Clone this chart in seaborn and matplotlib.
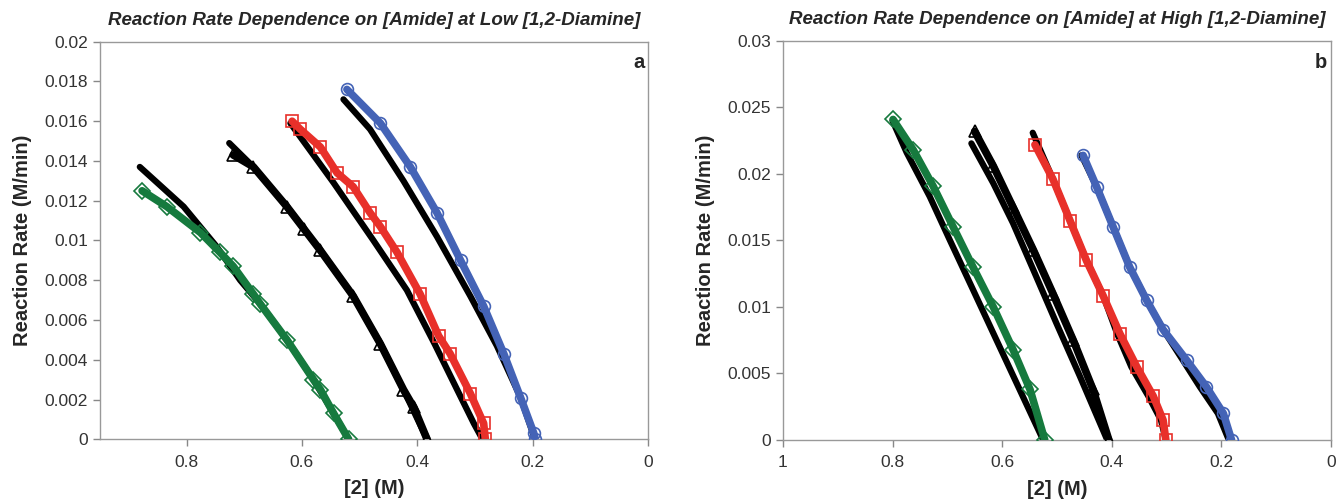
import matplotlib
matplotlib.use("Agg")
import matplotlib.pyplot as plt
import seaborn as sns

# ---- panel a: low [1,2-diamine] ----
a_green_x = [0.877, 0.834, 0.776, 0.742, 0.719, 0.684, 0.672, 0.626, 0.580, 0.568, 0.545, 0.519]
a_green_y = [0.0125, 0.0117, 0.0104, 0.0094, 0.0087, 0.0073, 0.0068, 0.0050, 0.0030, 0.0025, 0.0013, 0.0]
a_green_fit_x = [0.881, 0.805, 0.748, 0.707, 0.672, 0.626, 0.580, 0.545, 0.519]
a_green_fit_y = [0.0137, 0.0117, 0.0097, 0.0080, 0.0068, 0.0050, 0.0030, 0.0013, 0.0]

a_black_x = [0.719, 0.684, 0.626, 0.597, 0.568, 0.511, 0.464, 0.424, 0.406, 0.383]
a_black_y = [0.0143, 0.0137, 0.0117, 0.0106, 0.0095, 0.0072, 0.0048, 0.0025, 0.0016, 0.0]
a_black_fit_x = [0.726, 0.684, 0.626, 0.568, 0.511, 0.464, 0.424, 0.383]
a_black_fit_y = [0.0149, 0.0137, 0.0117, 0.0095, 0.0072, 0.0048, 0.0025, 0.0]

a_red_x = [0.617, 0.603, 0.568, 0.539, 0.511, 0.482, 0.464, 0.435, 0.395, 0.363, 0.343, 0.308, 0.285, 0.282]
a_red_y = [0.0160, 0.0156, 0.0147, 0.0134, 0.0127, 0.0114, 0.0107, 0.0094, 0.0073, 0.0052, 0.0043, 0.0023, 0.0008, 0.0]
a_red_fit_x = [0.620, 0.545, 0.476, 0.418, 0.370, 0.331, 0.302, 0.287]
a_red_fit_y = [0.0159, 0.0129, 0.0100, 0.0075, 0.0048, 0.0025, 0.0008, 0.0]

a_blue_x = [0.522, 0.464, 0.412, 0.366, 0.325, 0.285, 0.250, 0.221, 0.198, 0.196]
a_blue_y = [0.0176, 0.0159, 0.0137, 0.0114, 0.0090, 0.0067, 0.0043, 0.0021, 0.0003, 0.0]
a_blue_fit_x = [0.528, 0.482, 0.424, 0.366, 0.308, 0.262, 0.221, 0.196]
a_blue_fit_y = [0.0171, 0.0156, 0.0130, 0.0102, 0.0072, 0.0047, 0.0021, 0.0]

# ---- panel b: high [1,2-diamine] ----
b_green_x = [0.799, 0.762, 0.726, 0.689, 0.653, 0.616, 0.580, 0.549, 0.522]
b_green_y = [0.0241, 0.0218, 0.0191, 0.0160, 0.0130, 0.0100, 0.0068, 0.0038, 0.0]
b_green_fit_x = [0.800, 0.774, 0.732, 0.695, 0.653, 0.610, 0.568, 0.525]
b_green_fit_y = [0.0240, 0.0216, 0.0183, 0.0150, 0.0113, 0.0075, 0.0038, 0.0]

b_black_x = [0.650, 0.616, 0.580, 0.543, 0.507, 0.470, 0.434, 0.405]
b_black_y = [0.0232, 0.0206, 0.0175, 0.0143, 0.0110, 0.0075, 0.0038, 0.0]
b_black_fit_x = [0.656, 0.616, 0.580, 0.543, 0.501, 0.458, 0.408]
b_black_fit_y = [0.0223, 0.0193, 0.0163, 0.0128, 0.0088, 0.0048, 0.0]

b_red_x = [0.540, 0.507, 0.476, 0.446, 0.415, 0.385, 0.354, 0.324, 0.306, 0.301]
b_red_y = [0.0222, 0.0196, 0.0165, 0.0135, 0.0108, 0.0080, 0.0055, 0.0033, 0.0015, 0.0]
b_red_fit_x = [0.544, 0.507, 0.476, 0.446, 0.415, 0.390, 0.364, 0.333, 0.310, 0.301]
b_red_fit_y = [0.0231, 0.0196, 0.0165, 0.0135, 0.0108, 0.0080, 0.0055, 0.0033, 0.0015, 0.0]

b_blue_x = [0.452, 0.427, 0.397, 0.367, 0.336, 0.306, 0.263, 0.227, 0.196, 0.181]
b_blue_y = [0.0214, 0.0190, 0.0160, 0.0130, 0.0105, 0.0083, 0.0060, 0.0040, 0.0020, 0.0]
b_blue_fit_x = [0.455, 0.427, 0.397, 0.367, 0.336, 0.306, 0.270, 0.239, 0.206, 0.186]
b_blue_fit_y = [0.0214, 0.0190, 0.0160, 0.0130, 0.0105, 0.0083, 0.0060, 0.0040, 0.0020, 0.0]

a_xticks = [0.8, 0.6, 0.4, 0.2, 0]
a_xticklabels = ["0.8", "0.6", "0.4", "0.2", "0"]
a_yticks = [0, 0.002, 0.004, 0.006, 0.008, 0.01, 0.012, 0.014, 0.016, 0.018, 0.02]
a_yticklabels = ["0", "0.002", "0.004", "0.006", "0.008", "0.01", "0.012", "0.014", "0.016", "0.018", "0.02"]
b_xticks = [1, 0.8, 0.6, 0.4, 0.2, 0]
b_xticklabels = ["1", "0.8", "0.6", "0.4", "0.2", "0"]
b_yticks = [0, 0.005, 0.01, 0.015, 0.02, 0.025, 0.03]
b_yticklabels = ["0", "0.005", "0.01", "0.015", "0.02", "0.025", "0.03"]

GREEN = "#167a3e"
RED = "#e8302a"
BLUE = "#4463b6"
BLACK = "#000000"

sns.set_style("ticks")
plt.rcParams["font.family"] = ["Liberation Sans", "DejaVu Sans"]

fig = plt.figure(figsize=(13.37, 5.04), dpi=100)
ax_a = fig.add_axes([0.0748, 0.1284, 0.4099, 0.7889])
ax_b = fig.add_axes([0.5856, 0.1270, 0.4097, 0.7917])


def draw_series(ax, x, y, fx, fy, color, marker):
    # fitted curve first (thick black), then the measured points on top
    sns.lineplot(x=fx, y=fy, color=BLACK, linewidth=4.5, sort=False, ax=ax, zorder=2)
    sns.lineplot(x=x, y=y, color=color, linewidth=5.5, sort=False, ax=ax, zorder=3,
                 marker=marker, markersize=8.5, markerfacecolor="none",
                 markeredgecolor=color, markeredgewidth=1.2)


draw_series(ax_a, a_green_x, a_green_y, a_green_fit_x, a_green_fit_y, GREEN, "D")
draw_series(ax_a, a_black_x, a_black_y, a_black_fit_x, a_black_fit_y, BLACK, "^")
draw_series(ax_a, a_red_x, a_red_y, a_red_fit_x, a_red_fit_y, RED, "s")
draw_series(ax_a, a_blue_x, a_blue_y, a_blue_fit_x, a_blue_fit_y, BLUE, "o")

draw_series(ax_b, b_green_x, b_green_y, b_green_fit_x, b_green_fit_y, GREEN, "D")
draw_series(ax_b, b_black_x, b_black_y, b_black_fit_x, b_black_fit_y, BLACK, "^")
draw_series(ax_b, b_red_x, b_red_y, b_red_fit_x, b_red_fit_y, RED, "s")
draw_series(ax_b, b_blue_x, b_blue_y, b_blue_fit_x, b_blue_fit_y, BLUE, "o")

panels = [
    (ax_a, (0.95, 0), (0, 0.02), a_xticks, a_xticklabels, a_yticks, a_yticklabels,
     "Reaction Rate Dependence on [Amide] at Low [1,2-Diamine]", "a"),
    (ax_b, (1, 0), (0, 0.03), b_xticks, b_xticklabels, b_yticks, b_yticklabels,
     "Reaction Rate Dependence on [Amide] at High [1,2-Diamine]", "b"),
]
for ax, xl, yl, xt, xtl, yt, ytl, title, letter in panels:
    ax.set_xlim(*xl)
    ax.set_ylim(*yl)
    ax.set_xticks(xt)
    ax.set_xticklabels(xtl)
    ax.set_yticks(yt)
    ax.set_yticklabels(ytl)
    ax.tick_params(axis="both", labelsize=12.5, labelcolor="#333333", color="#888888",
                   length=5, width=1, direction="out")
    ax.tick_params(axis="x", pad=6)
    for sp in ax.spines.values():
        sp.set_visible(True)
        sp.set_color("#999999")
        sp.set_linewidth(1)
    ax.set_xlabel("[2] (M)", fontsize=14.5, fontweight="bold", labelpad=7)
    ax.set_ylabel("Reaction Rate (M/min)", fontsize=14.5, fontweight="bold", labelpad=9)
    ax.set_title(title, fontsize=13.5, fontweight="bold", fontstyle="italic", pad=12)
    ax.text(0.993, 0.947, letter, transform=ax.transAxes, ha="right", va="center",
            fontsize=14.5, fontweight="bold")

fig.savefig("out.png", dpi=100)
